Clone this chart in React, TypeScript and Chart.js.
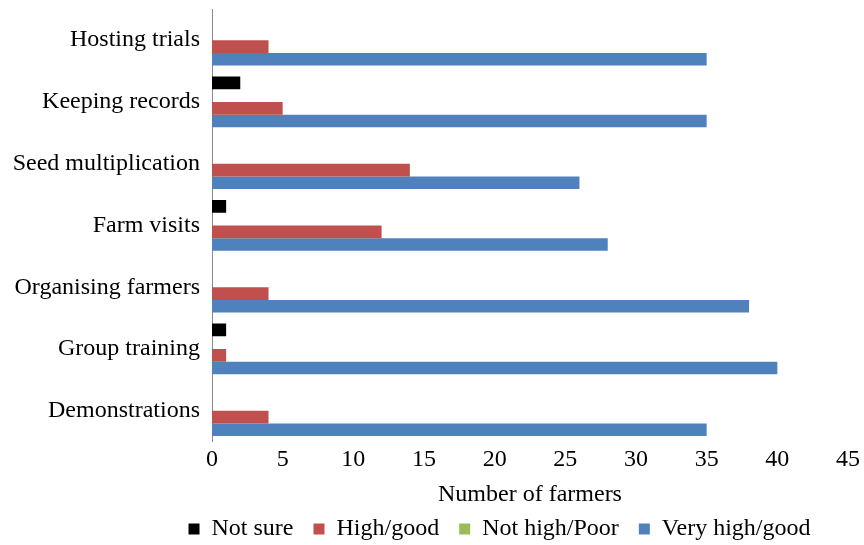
import React, { useEffect, useRef } from "react";
import { Chart, registerables } from "chart.js";

Chart.register(...registerables);

const categories = [
  "Hosting trials",
  "Keeping records",
  "Seed multiplication",
  "Farm visits",
  "Organising farmers",
  "Group training",
  "Demonstrations",
];
const notSure = [0, 2, 0, 1, 0, 1, 0];
const highGood = [4, 5, 14, 12, 4, 1, 4];
const notHighPoor = [0, 0, 0, 0, 0, 0, 0];
const veryHighGood = [35, 35, 26, 28, 38, 40, 35];
const xTicks = [0, 5, 10, 15, 20, 25, 30, 35, 40, 45];
const legendOrder = ["Not sure", "High/good", "Not high/Poor", "Very high/good"];

const FONT = "'Liberation Serif', 'Times New Roman', serif";

const unclipY = {
  id: "unclipY",
  afterLayout(chart: any) {
    const y = chart.scales.y;
    if (y) {
      y.left = 0;
      y.width = y.right;
    }
  },
};

export default function App() {
  const ref = useRef<HTMLCanvasElement | null>(null);

  useEffect(() => {
    document.body.style.margin = "0";
    let chart: Chart | null = null;
    let cancelled = false;

    const build = () => {
      const canvas = ref.current;
      if (!canvas || cancelled) return;
      chart = new Chart(canvas, {
        type: "bar",
        data: {
          labels: categories,
          datasets: [
            { label: "Not sure", data: notSure, backgroundColor: "#000000" },
            { label: "Not high/Poor", data: notHighPoor, backgroundColor: "#9BBB59" },
            { label: "High/good", data: highGood, backgroundColor: "#C0504D" },
            { label: "Very high/good", data: veryHighGood, backgroundColor: "#4F81BD" },
          ],
        },
        plugins: [unclipY],
        options: {
          indexAxis: "y",
          responsive: false,
          animation: false,
          events: [],
          layout: { padding: { left: 149, right: 14, top: 9.3, bottom: 0 } },
          datasets: {
            bar: { categoryPercentage: 0.8226, barPercentage: 1, borderWidth: 0 },
          },
          scales: {
            x: {
              type: "linear",
              min: 0,
              max: 45,
              afterBuildTicks: (s: any) => {
                s.ticks = xTicks.map((v) => ({ value: v }));
              },
              afterFit: (s: any) => {
                s.height = 55.4;
              },
              grid: { display: false, drawTicks: false },
              border: { display: false },
              ticks: {
                color: "#000",
                padding: 4,
                font: { family: FONT, size: 24 },
              },
              title: {
                display: true,
                text: "Number of farmers",
                color: "#000",
                padding: { top: 0, bottom: 0 },
                font: { family: FONT, size: 24, lineHeight: "4px" as any },
              },
            },
            y: {
              type: "category",
              afterFit: (s: any) => {
                s.width = 63;
                s.paddingTop = 0;
                s.paddingBottom = 0;
              },
              grid: { display: false, drawTicks: false },
              border: { display: true, color: "#898989", width: 1 },
              ticks: {
                color: "#000",
                padding: 12,
                autoSkip: false,
                font: { family: FONT, size: 24 },
              },
            },
          },
          plugins: {
            tooltip: { enabled: false },
            legend: {
              position: "bottom",
              align: "center",
              maxHeight: 48,
              labels: {
                color: "#000",
                boxWidth: 11,
                boxHeight: 11,
                padding: 20,
                font: { family: FONT, size: 24 },
                sort: (a: any, b: any) =>
                  legendOrder.indexOf(a.text) - legendOrder.indexOf(b.text),
              },
            },
          },
        },
      });
    };

    const fontsApi: any = (document as any).fonts;
    if (fontsApi && fontsApi.load) {
      fontsApi
        .load("24px 'Liberation Serif'")
        .then(build, build);
    } else {
      build();
    }

    return () => {
      cancelled = true;
      if (chart) chart.destroy();
    };
  }, []);

  return (
    <div style={{ width: 864, height: 545, fontFamily: FONT }}>
      <canvas ref={ref} width={864} height={545} />
    </div>
  );
}
